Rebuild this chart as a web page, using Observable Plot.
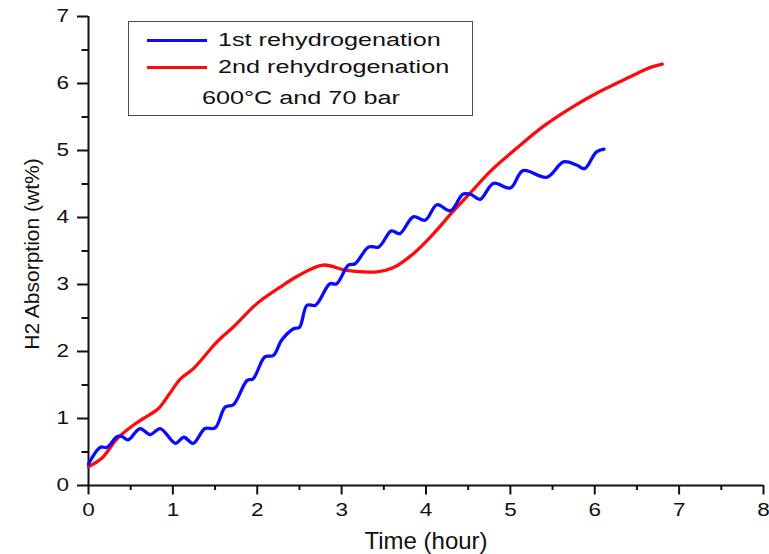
<!DOCTYPE html>
<html>
<head>
<meta charset="utf-8">
<script src="https://cdn.jsdelivr.net/npm/d3@7"></script>
<script src="https://cdn.jsdelivr.net/npm/@observablehq/plot@0.6"></script>
<style>
  html, body { margin: 0; padding: 0; background: #fff; }
  #wrap { position: relative; width: 769px; height: 554px; font-family: "Liberation Sans", Arial, sans-serif; }
  #legend-box { position: absolute; left: 128px; top: 21px; width: 343px; height: 93px; border: 1.5px solid #4a4a4a; background: #fff; }
  .sw { position: absolute; left: 147px; width: 60px; height: 2.5px; }
  .lt { position: absolute; font-size: 18px; line-height: 18px; white-space: nowrap; color: #111; transform: scaleX(1.4); transform-origin: left center; }
</style>
</head>
<body>
<div id="wrap"></div>
<script>
// Tick values
const xTicks = [0, 1, 2, 3, 4, 5, 6, 7, 8];
const xMinor = [0.5, 1.5, 2.5, 3.5, 4.5, 5.5, 6.5, 7.5];
const yTicks = [0, 1, 2, 3, 4, 5, 6, 7];
const yMinor = [0.5, 1.5, 2.5, 3.5, 4.5, 5.5, 6.5];

// Series names
const seriesNames = ["1st rehydrogenation", "2nd rehydrogenation"];
const conditionText = "600°C and 70 bar";
const xTitle = "Time (hour)";
const yTitle = "H2 Absorption (wt%)";

// 1st rehydrogenation (blue)
const firstTime = [0, 0.14, 0.22, 0.34, 0.40, 0.47, 0.61, 0.73, 0.85, 1.03, 1.13, 1.24, 1.38, 1.50, 1.62, 1.72, 1.88, 1.95, 2.09, 2.19, 2.29, 2.43, 2.50, 2.59, 2.69, 2.86, 2.94, 3.08, 3.16, 3.32, 3.44, 3.59, 3.69, 3.85, 3.99, 4.13, 4.29, 4.44, 4.54, 4.64, 4.80, 5.00, 5.15, 5.43, 5.63, 5.79, 5.88, 6.02, 6.11];
const firstAbs  = [0.32, 0.57, 0.57, 0.73, 0.73, 0.68, 0.85, 0.76, 0.85, 0.63, 0.72, 0.63, 0.85, 0.86, 1.17, 1.21, 1.57, 1.59, 1.92, 1.94, 2.17, 2.34, 2.36, 2.69, 2.69, 3.01, 3.01, 3.29, 3.31, 3.56, 3.56, 3.80, 3.76, 4.01, 3.96, 4.19, 4.10, 4.35, 4.34, 4.27, 4.51, 4.44, 4.70, 4.60, 4.83, 4.78, 4.73, 4.98, 5.02];

// 2nd rehydrogenation (red)
const secondTime = [0, 0.16, 0.34, 0.53, 0.65, 0.83, 0.95, 1.09, 1.24, 1.52, 1.72, 2.00, 2.27, 2.47, 2.78, 3.06, 3.42, 3.61, 3.85, 4.09, 4.32, 4.52, 4.78, 5.07, 5.39, 5.71, 6.06, 6.42, 6.66, 6.80];
const secondAbs  = [0.28, 0.41, 0.70, 0.90, 1.00, 1.15, 1.35, 1.59, 1.74, 2.14, 2.37, 2.72, 2.96, 3.12, 3.29, 3.21, 3.19, 3.25, 3.46, 3.76, 4.09, 4.36, 4.71, 5.03, 5.36, 5.63, 5.88, 6.10, 6.24, 6.29];

const colors = ["#0a0aff", "#ff0a0a"];

const first = firstTime.map((t, i) => ({t, v: firstAbs[i]}));
const second = secondTime.map((t, i) => ({t, v: secondAbs[i]}));

const chart = Plot.plot({
  width: 769,
  height: 554,
  marginLeft: 88,
  marginRight: 6,
  marginTop: 16,
  marginBottom: 69,
  x: {domain: [0, 8], label: null},
  y: {domain: [0, 7], label: null},
  style: {fontFamily: "'Liberation Sans', Arial, sans-serif", fontSize: "18px", background: "#fff", color: "#111", overflow: "visible"},
  marks: [
    Plot.axisX({ticks: xMinor, tickSize: 5, tickFormat: () => "", label: null, strokeWidth: 2, stroke: "#111"}),
    Plot.axisX({ticks: xTicks, tickSize: 9.5, tickPadding: 8.5, tickFormat: d => String(d), label: null, strokeWidth: 2, stroke: "#111", fill: "#111", fontSize: 18}),
    Plot.axisY({ticks: yMinor, tickSize: 6.5, tickFormat: () => "", label: null, strokeWidth: 2, stroke: "#111"}),
    Plot.axisY({ticks: yTicks, tickSize: 11, tickPadding: 8.5, tickFormat: d => String(d), label: null, strokeWidth: 2, stroke: "#111", fill: "#111", fontSize: 18}),
    Plot.ruleY([0], {stroke: "#111", strokeWidth: 2}),
    Plot.ruleX([0], {stroke: "#111", strokeWidth: 2}),
    Plot.line(second, {x: "t", y: "v", stroke: colors[1], strokeWidth: 3.3, curve: "catmull-rom"}),
    Plot.line(first, {x: "t", y: "v", stroke: colors[0], strokeWidth: 3.3, curve: "catmull-rom"}),
    Plot.text([xTitle], {frameAnchor: "bottom", dy: 63, lineAnchor: "bottom", textAnchor: "middle", fontSize: 24, fill: "#111"}),
    Plot.text([yTitle], {frameAnchor: "left", dx: -50, dy: 3, rotate: -90, lineAnchor: "bottom", textAnchor: "middle", fontSize: 21, fill: "#111"})
  ]
});

const wrap = document.getElementById("wrap");
wrap.appendChild(chart);

// widen tick labels to match reference's horizontally stretched digits
chart.querySelectorAll('g[aria-label$="tick label"] text').forEach(t => {
  const w = t.getComputedTextLength();
  if (w > 0) {
    t.setAttribute("textLength", (w * 1.25).toFixed(2));
    t.setAttribute("lengthAdjust", "spacingAndGlyphs");
  }
});

// Legend overlay
const box = document.createElement("div");
box.id = "legend-box";
wrap.appendChild(box);
const rows = [
  {text: seriesNames[0], color: colors[0], sw: 39, top: 31, left: 218},
  {text: seriesNames[1], color: colors[1], sw: 66, top: 58, left: 218},
  {text: conditionText, color: null, sw: null, top: 89, left: 202}
];
rows.forEach(r => {
  if (r.color) {
    const s = document.createElement("div");
    s.className = "sw";
    s.style.top = r.sw + "px";
    s.style.background = r.color;
    wrap.appendChild(s);
  }
  const t = document.createElement("div");
  t.className = "lt";
  t.style.left = r.left + "px";
  t.style.top = r.top + "px";
  t.textContent = r.text;
  wrap.appendChild(t);
});
</script>
</body>
</html>
